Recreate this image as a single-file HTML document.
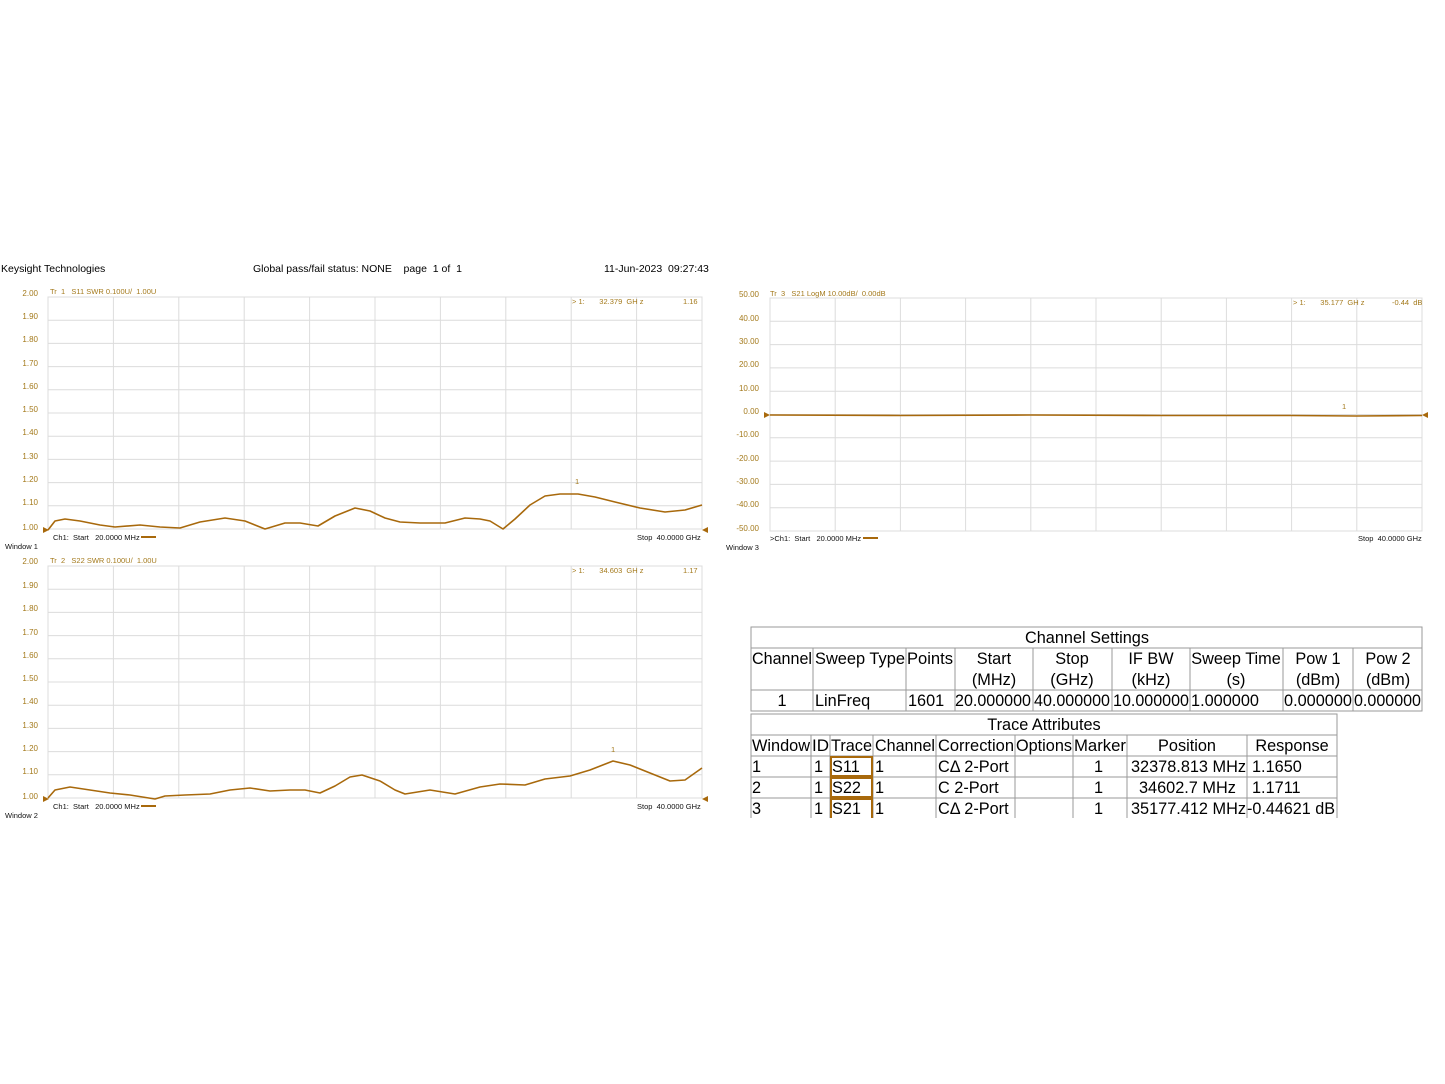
<!DOCTYPE html>
<html><head><meta charset="utf-8"><style>
html,body{margin:0;padding:0;background:#fff;}
svg{display:block;font-family:"Liberation Sans",Arial,sans-serif;}
text{white-space:pre;}
.g{stroke:#dcdcdc;stroke-width:1;}
.yl{fill:#a47a1c;font-size:8px;text-anchor:end;}
.t{fill:#a47a1c;font-size:7.5px;}
.k{fill:#111;font-size:7.5px;}
.tr{fill:none;stroke:#a8690c;stroke-width:1.6;stroke-linejoin:round;}
.tb{stroke:#9a9a9a;stroke-width:1;fill:none;}
.tx{font-size:16.3px;fill:#000;}
</style></head><body>
<svg width="1445" height="1084" viewBox="0 0 1445 1084" xml:space="preserve">
<text x="1" y="272" font-size="10.5" fill="#000">Keysight Technologies</text>
<text x="253" y="272" font-size="10.5" fill="#000">Global pass/fail status: NONE    page  1 of  1</text>
<text x="604" y="272" font-size="10.5" fill="#000">11-Jun-2023  09:27:43</text>

<g>
<rect x="48" y="297" width="654" height="232" fill="none" stroke="#dcdcdc"/>
<g class="g">
<line x1="48" y1="320.2" x2="702" y2="320.2"/><line x1="48" y1="343.4" x2="702" y2="343.4"/><line x1="48" y1="366.6" x2="702" y2="366.6"/><line x1="48" y1="389.8" x2="702" y2="389.8"/><line x1="48" y1="413" x2="702" y2="413"/><line x1="48" y1="436.2" x2="702" y2="436.2"/><line x1="48" y1="459.4" x2="702" y2="459.4"/><line x1="48" y1="482.6" x2="702" y2="482.6"/><line x1="48" y1="505.8" x2="702" y2="505.8"/>
<line x1="113.4" y1="297" x2="113.4" y2="529"/><line x1="178.8" y1="297" x2="178.8" y2="529"/><line x1="244.2" y1="297" x2="244.2" y2="529"/><line x1="309.6" y1="297" x2="309.6" y2="529"/><line x1="375" y1="297" x2="375" y2="529"/><line x1="440.4" y1="297" x2="440.4" y2="529"/><line x1="505.8" y1="297" x2="505.8" y2="529"/><line x1="571.2" y1="297" x2="571.2" y2="529"/><line x1="636.6" y1="297" x2="636.6" y2="529"/>
</g>
<g class="yl"><text x="38" y="296">2.00</text><text x="38" y="319">1.90</text><text x="38" y="342">1.80</text><text x="38" y="366">1.70</text><text x="38" y="389">1.60</text><text x="38" y="412">1.50</text><text x="38" y="435">1.40</text><text x="38" y="459">1.30</text><text x="38" y="482">1.20</text><text x="38" y="505">1.10</text><text x="38" y="530">1.00</text></g>
<text class="t" x="50" y="294">Tr  1   S11 SWR 0.100U/  1.00U</text>
<text class="t" x="572" y="304">&gt; 1:       32.379  GH z</text><text class="t" x="683" y="304">1.16</text>
<text class="t" x="575" y="484">1</text>
<polyline class="tr" points="48,530 55,521 65,519 80,521 100,525 115,527 140,525 160,527 180,528 200,522 225,518 245,521 265,529 285,523 300,523 318,526 335,516 355,508 370,511 385,518 400,522 420,523 445,523 465,518 480,519 490,521 503,529 515,519 530,505 545,496 560,494 578,494 595,497 615,502 640,508 665,512 685,510 702,505"/>
<polygon points="43,527 49,530 43,533" fill="#a8690c"/><polygon points="708,527 702,530 708,533" fill="#a8690c"/>
<text class="k" x="53" y="540">Ch1:  Start   20.0000 MHz</text><line x1="141" y1="537" x2="156" y2="537" stroke="#a8690c" stroke-width="2"/>
<text class="k" x="637" y="540">Stop  40.0000 GHz</text>
<text class="k" x="5" y="549">Window 1</text>
</g>

<g>
<rect x="48" y="566" width="654" height="232" fill="none" stroke="#dcdcdc"/>
<g class="g">
<line x1="48" y1="589.2" x2="702" y2="589.2"/><line x1="48" y1="612.4" x2="702" y2="612.4"/><line x1="48" y1="635.6" x2="702" y2="635.6"/><line x1="48" y1="658.8" x2="702" y2="658.8"/><line x1="48" y1="682" x2="702" y2="682"/><line x1="48" y1="705.2" x2="702" y2="705.2"/><line x1="48" y1="728.4" x2="702" y2="728.4"/><line x1="48" y1="751.6" x2="702" y2="751.6"/><line x1="48" y1="774.8" x2="702" y2="774.8"/>
<line x1="113.4" y1="566" x2="113.4" y2="798"/><line x1="178.8" y1="566" x2="178.8" y2="798"/><line x1="244.2" y1="566" x2="244.2" y2="798"/><line x1="309.6" y1="566" x2="309.6" y2="798"/><line x1="375" y1="566" x2="375" y2="798"/><line x1="440.4" y1="566" x2="440.4" y2="798"/><line x1="505.8" y1="566" x2="505.8" y2="798"/><line x1="571.2" y1="566" x2="571.2" y2="798"/><line x1="636.6" y1="566" x2="636.6" y2="798"/>
</g>
<g class="yl"><text x="38" y="564">2.00</text><text x="38" y="588">1.90</text><text x="38" y="611">1.80</text><text x="38" y="635">1.70</text><text x="38" y="658">1.60</text><text x="38" y="681">1.50</text><text x="38" y="704">1.40</text><text x="38" y="728">1.30</text><text x="38" y="751">1.20</text><text x="38" y="774">1.10</text><text x="38" y="799">1.00</text></g>
<text class="t" x="50" y="563">Tr  2   S22 SWR 0.100U/  1.00U</text>
<text class="t" x="572" y="573">&gt; 1:       34.603  GH z</text><text class="t" x="683" y="573">1.17</text>
<text class="t" x="611" y="752">1</text>
<polyline class="tr" points="48,798 55,790 70,787 90,790 110,793 130,795 155,799 165,796 185,795 210,794 230,790 250,788 270,791 290,790 305,790 320,793 335,786 350,777 362,775 380,781 395,790 405,794 430,790 455,794 480,787 500,784 525,785 545,779 570,776 590,770 613,761 630,765 650,773 670,781 685,780 702,768"/>
<polygon points="43,796 49,799 43,802" fill="#a8690c"/><polygon points="708,796 702,799 708,802" fill="#a8690c"/>
<text class="k" x="53" y="809">Ch1:  Start   20.0000 MHz</text><line x1="141" y1="806" x2="156" y2="806" stroke="#a8690c" stroke-width="2"/>
<text class="k" x="637" y="809">Stop  40.0000 GHz</text>
<text class="k" x="5" y="818">Window 2</text>
</g>

<g>
<rect x="770" y="298" width="652" height="233" fill="none" stroke="#dcdcdc"/>
<g class="g">
<line x1="770" y1="321.3" x2="1422" y2="321.3"/><line x1="770" y1="344.6" x2="1422" y2="344.6"/><line x1="770" y1="367.9" x2="1422" y2="367.9"/><line x1="770" y1="391.2" x2="1422" y2="391.2"/><line x1="770" y1="414.5" x2="1422" y2="414.5"/><line x1="770" y1="437.8" x2="1422" y2="437.8"/><line x1="770" y1="461.1" x2="1422" y2="461.1"/><line x1="770" y1="484.4" x2="1422" y2="484.4"/><line x1="770" y1="507.7" x2="1422" y2="507.7"/>
<line x1="835.2" y1="298" x2="835.2" y2="531"/><line x1="900.4" y1="298" x2="900.4" y2="531"/><line x1="965.6" y1="298" x2="965.6" y2="531"/><line x1="1030.8" y1="298" x2="1030.8" y2="531"/><line x1="1096" y1="298" x2="1096" y2="531"/><line x1="1161.2" y1="298" x2="1161.2" y2="531"/><line x1="1226.4" y1="298" x2="1226.4" y2="531"/><line x1="1291.6" y1="298" x2="1291.6" y2="531"/><line x1="1356.8" y1="298" x2="1356.8" y2="531"/>
</g>
<g class="yl"><text x="759" y="297">50.00</text><text x="759" y="321">40.00</text><text x="759" y="344">30.00</text><text x="759" y="367">20.00</text><text x="759" y="391">10.00</text><text x="759" y="414">0.00</text><text x="759" y="437">-10.00</text><text x="759" y="461">-20.00</text><text x="759" y="484">-30.00</text><text x="759" y="507">-40.00</text><text x="759" y="531">-50.00</text></g>
<text class="t" x="770" y="296">Tr  3   S21 LogM 10.00dB/  0.00dB</text>
<text class="t" x="1293" y="305">&gt; 1:       35.177  GH z</text><text class="t" x="1392" y="305">-0.44  dB</text>
<text class="t" x="1342" y="409">1</text>
<polyline class="tr" points="770,415 900,415.5 1030,415 1160,415.5 1290,415.5 1356,416 1422,415.5"/>
<polygon points="764,412 770,415 764,418" fill="#a8690c"/><polygon points="1428,412 1422,415 1428,418" fill="#a8690c"/>
<text class="k" x="770" y="541">&gt;Ch1:  Start   20.0000 MHz</text><line x1="863" y1="538" x2="878" y2="538" stroke="#a8690c" stroke-width="2"/>
<text class="k" x="1358" y="541">Stop  40.0000 GHz</text>
<text class="k" x="726" y="550">Window 3</text>
</g>

<g class="tb">
<rect x="751" y="627" width="671" height="84"/>
<line x1="751" y1="648" x2="1422" y2="648"/><line x1="751" y1="690" x2="1422" y2="690"/>
<line x1="813" y1="648" x2="813" y2="711"/><line x1="906" y1="648" x2="906" y2="711"/><line x1="955" y1="648" x2="955" y2="711"/><line x1="1033" y1="648" x2="1033" y2="711"/><line x1="1112" y1="648" x2="1112" y2="711"/><line x1="1190" y1="648" x2="1190" y2="711"/><line x1="1283" y1="648" x2="1283" y2="711"/><line x1="1353" y1="648" x2="1353" y2="711"/>
</g>
<g class="tx">
<text x="1087" y="643" text-anchor="middle">Channel Settings</text>
<text x="752" y="664" textLength="60" lengthAdjust="spacingAndGlyphs">Channel</text><text x="815" y="664" textLength="90" lengthAdjust="spacingAndGlyphs">Sweep Type</text><text x="907" y="664" textLength="46" lengthAdjust="spacingAndGlyphs">Points</text>
<text x="994" y="664" text-anchor="middle">Start</text><text x="994" y="685" text-anchor="middle">(MHz)</text>
<text x="1072" y="664" text-anchor="middle">Stop</text><text x="1072" y="685" text-anchor="middle">(GHz)</text>
<text x="1151" y="664" text-anchor="middle">IF BW</text><text x="1151" y="685" text-anchor="middle">(kHz)</text>
<text x="1236" y="664" text-anchor="middle">Sweep Time</text><text x="1236" y="685" text-anchor="middle">(s)</text>
<text x="1318" y="664" text-anchor="middle">Pow 1</text><text x="1318" y="685" text-anchor="middle">(dBm)</text>
<text x="1388" y="664" text-anchor="middle">Pow 2</text><text x="1388" y="685" text-anchor="middle">(dBm)</text>
<text x="782" y="706" text-anchor="middle">1</text><text x="815" y="706">LinFreq</text><text x="908" y="706">1601</text>
<text x="955" y="706" textLength="76" lengthAdjust="spacingAndGlyphs">20.000000</text><text x="1034" y="706" textLength="76" lengthAdjust="spacingAndGlyphs">40.000000</text><text x="1113" y="706" textLength="76" lengthAdjust="spacingAndGlyphs">10.000000</text><text x="1191" y="706" textLength="68" lengthAdjust="spacingAndGlyphs">1.000000</text><text x="1284" y="706" textLength="68" lengthAdjust="spacingAndGlyphs">0.000000</text><text x="1354" y="706" textLength="67" lengthAdjust="spacingAndGlyphs">0.000000</text>
</g>

<g class="tb">
<path d="M751,818 V714 H1337 V818"/>
<line x1="751" y1="735" x2="1337" y2="735"/><line x1="751" y1="756" x2="1337" y2="756"/><line x1="751" y1="777" x2="1337" y2="777"/><line x1="751" y1="798" x2="1337" y2="798"/>
<line x1="811" y1="735" x2="811" y2="818"/><line x1="830" y1="735" x2="830" y2="818"/><line x1="873" y1="735" x2="873" y2="818"/><line x1="936" y1="735" x2="936" y2="818"/><line x1="1015" y1="735" x2="1015" y2="818"/><line x1="1073" y1="735" x2="1073" y2="818"/><line x1="1127" y1="735" x2="1127" y2="818"/><line x1="1247" y1="735" x2="1247" y2="818"/>
</g>
<g fill="none" stroke="#a8690c" stroke-width="2">
<rect x="831" y="757" width="41" height="19"/><rect x="831" y="778" width="41" height="19"/><path d="M831,818 V799 H872 V818"/>
</g>
<g class="tx">
<text x="1044" y="730" text-anchor="middle">Trace Attributes</text>
<text x="752" y="751" textLength="58" lengthAdjust="spacingAndGlyphs">Window</text><text x="812" y="751" textLength="17" lengthAdjust="spacingAndGlyphs">ID</text><text x="831" y="751" textLength="41" lengthAdjust="spacingAndGlyphs">Trace</text><text x="875" y="751" textLength="60" lengthAdjust="spacingAndGlyphs">Channel</text><text x="938" y="751" textLength="76" lengthAdjust="spacingAndGlyphs">Correction</text><text x="1016" y="751" textLength="56" lengthAdjust="spacingAndGlyphs">Options</text><text x="1074" y="751" textLength="52" lengthAdjust="spacingAndGlyphs">Marker</text>
<text x="1187" y="751" text-anchor="middle">Position</text><text x="1292" y="751" text-anchor="middle">Response</text>
<text x="752" y="772">1</text><text x="814" y="772">1</text><text x="832" y="772">S11</text><text x="875" y="772">1</text><text x="938" y="772">CΔ 2-Port</text><text x="1094" y="772">1</text><text x="1131" y="772" textLength="115" lengthAdjust="spacingAndGlyphs">32378.813 MHz</text><text x="1252" y="772">1.1650</text>
<text x="752" y="793">2</text><text x="814" y="793">1</text><text x="832" y="793">S22</text><text x="875" y="793">1</text><text x="938" y="793">C 2-Port</text><text x="1094" y="793">1</text><text x="1139" y="793">34602.7 MHz</text><text x="1252" y="793">1.1711</text>
<text x="752" y="814">3</text><text x="814" y="814">1</text><text x="832" y="814">S21</text><text x="875" y="814">1</text><text x="938" y="814">CΔ 2-Port</text><text x="1094" y="814">1</text><text x="1131" y="814" textLength="115" lengthAdjust="spacingAndGlyphs">35177.412 MHz</text><text x="1247" y="814" textLength="88" lengthAdjust="spacingAndGlyphs">-0.44621 dB</text>
</g>
</svg>
</body></html>
